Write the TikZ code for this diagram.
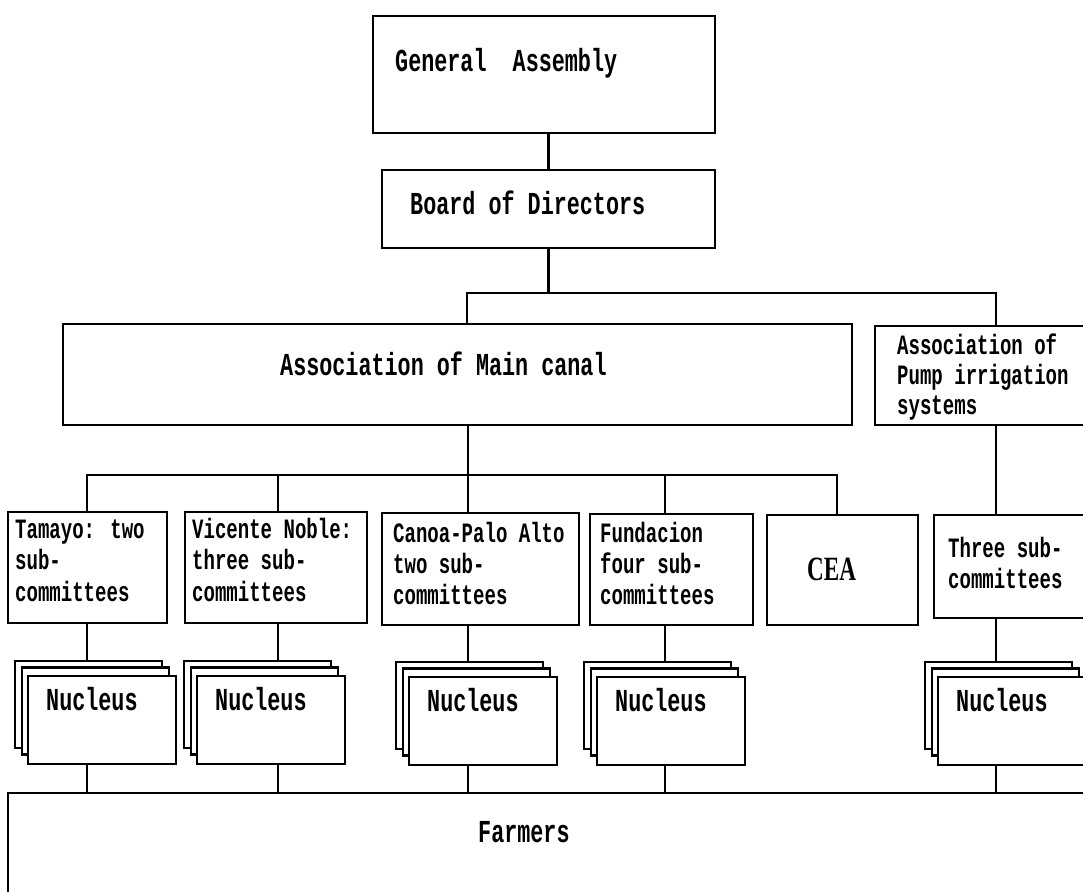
\documentclass[tikz,border=0pt]{standalone}
\usepackage{fontspec}
\newfontfamily\monof[FakeStretch=0.68]{Liberation Mono}
\newfontfamily\serf[FakeStretch=0.68]{Liberation Serif}
\tikzset{
  box/.style={draw, line width=2.6pt, fill=white, anchor=north west, inner sep=0pt, outer sep=0pt},
  bigtxt/.style={anchor=base west, inner sep=0pt, font=\monof\bfseries\fontsize{32}{32}\selectfont},
  smalltxt/.style={anchor=base west, inner sep=0pt, font=\monof\bfseries\fontsize{28}{28}\selectfont},
  link/.style={line width=2.6pt},
}
\newcommand\nucstack[3]{%
  \node[box, minimum width=147pt, minimum height=87pt] (#1b) at (#2,#3) {};
  \node[box, minimum width=147pt, minimum height=87pt] (#1m) at (#2+7,#3+6.5) {};
  \node[box, minimum width=148pt, minimum height=88pt] (#1f) at (#2+13,#3+15) {};
  \node[bigtxt] (#1t) at ([xshift=18pt,yshift=-34pt]#1f.north west) {Nucleus};
}
\begin{document}
\begin{tikzpicture}[x=1pt,y=-1pt]
\useasboundingbox (0,0) rectangle (1083,891);
\clip (0,0) rectangle (1083,891);
\fill[white] (0,0) rectangle (1083,891);

% top boxes
\node[box, minimum width=342pt, minimum height=117pt] (ga) at (373,16) {};
\node[bigtxt] (gat) at (395,71) {General\ \ Assembly};
\node[box, minimum width=333pt, minimum height=78pt] (bod) at (382,170) {};
\node[bigtxt] (bodt) at (410,214) {Board of Directors};

\node[box, minimum width=789pt, minimum height=101pt] (main) at (63,324) {};
\node[bigtxt] (maint) at (280,375) {Association of Main canal};
\node[box, minimum width=230pt, minimum height=99pt] (pump) at (875,326) {};
\node[smalltxt] (pt1) at (897,354) {Association of};
\node[smalltxt] (pt2) at (897,384) {Pump irrigation};
\node[smalltxt] (pt3) at (897,414) {systems};

% committees
\node[box, minimum width=159pt, minimum height=111pt] (tam) at (8,512) {};
\node[smalltxt] (tam1) at (15,538) {Tamayo: two};
\node[smalltxt] (tam2) at (15,569) {sub-};
\node[smalltxt] (tam3) at (15,601) {committees};

\node[box, minimum width=182pt, minimum height=111pt] (vic) at (185,512) {};
\node[smalltxt] (vic1) at (192,538) {Vicente Noble:};
\node[smalltxt] (vic2) at (192,569) {three sub-};
\node[smalltxt] (vic3) at (192,601) {committees};

\node[box, minimum width=197pt, minimum height=112pt] (can) at (382,513) {};
\node[smalltxt] (can1) at (393,542) {Canoa-Palo Alto};
\node[smalltxt] (can2) at (393,573) {two sub-};
\node[smalltxt] (can3) at (393,604) {committees};

\node[box, minimum width=163pt, minimum height=111pt] (fun) at (590,514) {};
\node[smalltxt] (fun1) at (600,542) {Fundacion};
\node[smalltxt] (fun2) at (600,573) {four sub-};
\node[smalltxt] (fun3) at (600,604) {committees};

\node[box, minimum width=151pt, minimum height=110pt] (cea) at (767,515) {};
\node[anchor=base west, inner sep=0pt, font=\serf\bfseries\fontsize{34}{34}\selectfont] (ceat) at (807,580) {CEA};

\node[box, minimum width=170pt, minimum height=103pt] (thr) at (934,515) {};
\node[smalltxt] (thr1) at (948,557) {Three sub-};
\node[smalltxt] (thr2) at (948,588) {committees};

% nucleus stacks
\nucstack{nA}{15}{661}
\nucstack{nB}{184}{661}
\nucstack{nC}{396}{662}
\nucstack{nD}{584}{662}
\nucstack{nE}{925}{662}

% farmers
\node[box, minimum width=1100pt, minimum height=150pt] (farm) at (8,793) {};
\node[bigtxt] (farmt) at (478,842) {Farmers};

% connectors
\coordinate (j1) at (467,293);
\coordinate (j2) at (996,293);
\draw[link] (bod.north) -- (bod.north |- ga.south);
\draw[link] (bod.south) -- (bod.south |- j1);
\draw[link] (main.north -| j1) |- (j2) -- (pump.north -| j2);

\coordinate (dA) at (87,475);
\coordinate (dB) at (278,475);
\coordinate (dC) at (468,475);
\coordinate (dD) at (665,475);
\coordinate (dE) at (837,475);
\draw[link] (main.south -| dC) -- (dC);
\draw[link] (dA |- tam.north) -- (dA) -- (dE) -- (dE |- cea.north);
\draw[link] (dB) -- (dB |- vic.north);
\draw[link] (dC) -- (dC |- can.north);
\draw[link] (dD) -- (dD |- fun.north);
\draw[link] (pump.south -| j2) -- (thr.north -| j2);

\draw[link] (tam.south -| dA) -- (nAb.north -| dA);
\draw[link] (vic.south -| dB) -- (nBb.north -| dB);
\draw[link] (can.south -| dC) -- (nCb.north -| dC);
\draw[link] (fun.south -| dD) -- (nDb.north -| dD);
\draw[link] (thr.south -| j2) -- (nEb.north -| j2);

\draw[link] (nAf.south -| dA) -- (farm.north -| dA);
\draw[link] (nBf.south -| dB) -- (farm.north -| dB);
\draw[link] (nCf.south -| dC) -- (farm.north -| dC);
\draw[link] (nDf.south -| dD) -- (farm.north -| dD);
\draw[link] (nEf.south -| j2) -- (farm.north -| j2);
\end{tikzpicture}
\end{document}
